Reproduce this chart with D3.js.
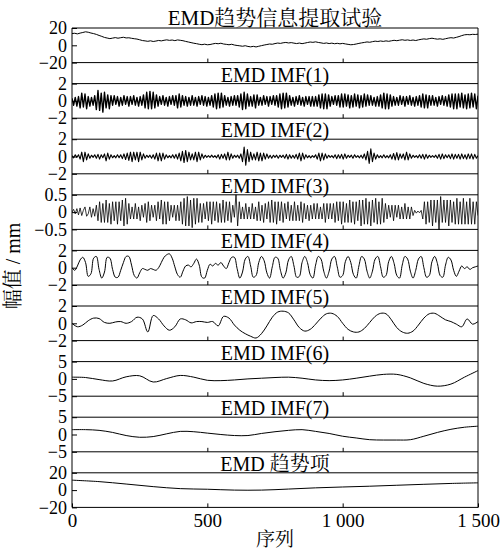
<!DOCTYPE html>
<html>
<head>
<meta charset="utf-8">
<script src="https://cdn.jsdelivr.net/npm/d3@7"></script>
<style>
body { margin: 0; background: #fff; }
</style>
</head>
<body>
<div id="chart"></div>
<script>
signalStep = 10
signal = [13.6,13.9,13.2,14.1,14.8,15.6,15.1,14.2,13.5,12.6,11.4,10.3,9.1,8.4,7.7,8.3,8.9,8.2,8.8,9.3,
  8.5,8.7,8.1,7.6,7.2,6.4,5.5,5.1,4.6,5.2,4.4,4.9,5.6,5.1,5.8,6.3,5.7,6.1,5.4,6.2,
  5.8,5.3,4.5,3.8,3.1,2.4,1.9,1.2,0.7,1.3,0.6,0.9,1.6,2.2,1.8,2.4,1.5,1.1,0.6,1.2,
  0.3,-0.2,-0.6,-1.1,-0.5,-1.3,-1.8,-1.2,-1.9,-1.1,-0.4,0.3,0.9,1.5,1.2,2,2.6,2.2,2.9,3.3,
  2.7,3.1,2.5,2,2.6,1.9,2.5,3.2,3.8,3.4,4,3.3,2.8,2.2,2.7,2,2.5,1.8,2.3,1.7,
  2.2,1.6,1.1,0.6,0.9,1.5,2.2,2.8,3.3,3.9,3.5,4.2,4.8,4.4,5,4.5,5.1,4.6,5.2,5.8,
  5.3,5.9,6.4,5.8,6.2,5.6,6.1,5.5,6.3,6.9,7.4,7,7.7,8.2,7.6,7.1,7.5,6.9,7.6,8.3,
  8.8,8.4,9.2,10.1,11.2,12.1,12.4,12.2,12.7,12.5,12.9]

imf1Step = 6
imf1 = [.3,-.5,.4,-.6,.5, -.8,.9,-.7,.8,-.9, .5,-.6,.4,-.5,.6, -1,1.2,-1.1,.9,-1.3,1,-.8,.7,-.9,.6,
  -.5,.6,-.4,.5,-.6, .4,-.5,.6,-.4,.5, -.6,.5,-.4,.6,-.5, .4,-.6,.5,-.5,.7, -.8,1,-.9,1.1,-.9,
  1,-.8,.7,-.6,.5, -.4,.6,-.5,.4,-.6, .5,-.4,.6,-.5,.6, -.8,.8,-.7,.6,-.5, .5,-.6,.4,-.5,.6,
  -.5,.4,-.6,.5,-.4, .6,-.5,.5,-.6,.4, -.5,.6,-.7,.8,-.9, .9,-.8,.9,-.7,.6, -.5,.4,-.6,.5,-.5,
  .6,-.5,.6,-.7,.8, -1,1,-.9,.8,-.6, .5,-.6,.7,-.8,.7, -.5,.4,-.5,.6,-.4, .5,-.6,.5,-.4,.6,
  -.5,.6,-.7,.8,-.9, .9,-.8,.9,-.7,.6, -.5,.4,-.6,.5,-.4, .6,-.5,.4,-.6,.5, -.4,.5,-.6,.5,-.6,
  .5,-.6,.7,-.8,.8, -.9,.8,-.9,.7,-.6, .5,-.4,.6,-.5,.6, -.7,.8,-.7,.8,-.6, .7,-.8,.6,-.7,.8,
  -.6,.7,-.8,.6,-.7, .8,-.6,.7,-.5,.6, -.5,.4,-.6,.5,-.6, .7,-.8,.9,-.9,.8, -.9,.7,-.6,.5,-.5,
  .4,-.5,.6,-.4,.5, -.6,.5,-.4,.6,-.5, .4,-.6,.5,-.5,.6, -.7,.8,-.8,.7,-.8, .6,-.5,.6,-.5,.4,
  -.6,.5,-.4,.6,-.5, .5,-.6,.7,-.7,.8, -.9,.8,-.9,.8,-.7, .9,-.8,.7,-.9,.8, -.8,.9,-.7,.8,-.9, .6]

imf2Step = 6
imf2 = [.1,-.15,.2,-.1,.2, -.3,.5,-.6,.5,-.4, .3,-.2,.15,-.1,.2, -.2,.25,-.3,.2,-.15, .3,-.5,.4,-.3,.2,
  -.15,.1,-.15,.2,-.15, .2,-.25,.3,-.35,.4, -.45,.5,-.6,.5,-.4, .5,-.6,.5,-.4,.3, -.2,.15,-.1,.15,-.2,
  .2,-.3,.4,-.5,.4, -.5,.4,-.3,.2,-.15, .1,-.15,.2,-.2,.25, -.3,.4,-.5,.6,-.7, .7,-.6,.5,-.4,.3,
  -.4,.5,-.6,.5,-.4, .3,-.2,.15,-.1,.1, -.1,.15,-.1,.1,-.15, .2,-.3,.25,-.2,.3, -.4,.5,-.4,.3,-.2,
  .15,-.1,.15,-.2,.3, -.6,1.1,-1,.8,-.6, .5,-.4,.3,-.4,.5, -.5,.4,-.5,.4,-.3, .3,-.2,.15,-.2,.15,
  -.1,.15,-.2,.15,-.1, .15,-.2,.25,-.3,.2, -.2,.15,-.2,.25,-.3, .4,-.5,.4,-.3,.2, -.15,.1,-.15,.1,-.1,
  .2,-.3,.4,-.5,.4, -.4,.3,-.2,.15,-.1, .1,-.15,.2,-.25,.2, -.2,.25,-.3,.3,-.2, .15,-.1,.15,-.2,.2,
  -.1,.1,-.15,.15,-.2, .3,-.4,.6,-.8,.9, -.6,.4,-.3,.2,-.15, .1,-.15,.2,-.15,.1, -.15,.2,-.3,.35,-.4,
  .45,-.4,.3,-.2,.3, -.4,.5,-.4,.3,-.2, .15,-.1,.1,-.15,.2, -.2,.25,-.3,.25,-.2, .15,-.1,.1,-.1,.15,
  -.2,.25,-.3,.3,-.25, .2,-.15,.2,-.25,.3, -.3,.25,-.2,.25,-.3, .3,-.25,.2,-.3,.3, -.25,.3,-.3,.25,-.2, .1]

imf3Step = 6
imf3 = [0,.08,-.05,.1,-.08, .12,-.1,.05,.15,-.12, -.05,.15,-.15,.1,-.12, .2,-.25,.3,-.3,.25, -.3,.35,-.3,.25,-.35,
  .3,-.25,.3,-.35,.3, -.25,.35,-.4,.4,-.35, .25,-.2,.15,-.2,.25, -.2,.15,-.25,.2,-.15, .25,-.3,.3,-.25,.2,
  -.15,.2,-.25,.3,-.2, .35,-.35,.3,-.35,.3, -.25,.2,-.15,.2,-.25, .2,-.25,.3,-.35,.4, -.4,.45,-.4,.35,-.45,
  .4,-.35,.4,-.3,.25, -.3,.25,-.2,.3,-.25, .3,-.35,.3,-.25,.3, -.3,.25,-.3,.35,-.3, .3,-.25,.3,-.3,.2,
  -.15,.55,-.4,.3,-.2, .15,-.2,.25,-.2,.15, -.2,.25,-.2,.15,-.25, .3,-.25,.2,-.3,.25, -.2,.3,-.3,.35,-.3,
  .3,-.35,.3,-.25,.3, -.3,.25,-.2,.3,-.25, .2,-.25,.3,-.25,.2, -.25,.3,-.3,.25,-.2, .2,-.25,.2,-.2,.25,
  -.2,.25,-.2,.15,-.2, .25,-.3,.25,-.2,.25, -.2,.25,-.3,.3,-.25, .3,-.35,.3,-.3,.25, -.3,.35,-.3,.3,-.35,
  .3,-.25,.35,-.4,.35, -.35,.4,-.35,.3,-.4, .35,-.3,.4,-.35,.3, -.35,.4,-.3,.25,-.2, .2,-.15,.2,-.25,.2,
  -.15,.2,-.2,.15,-.2, .25,-.2,.15,-.2,.15, -.1,.05,-.03,.03,-.02, .05,-.2,.3,-.35,.3, -.3,.35,-.4,.35,-.3,
  .35,-.55,.45,-.3,.35, -.3,.35,-.4,.35,-.3, .3,-.35,.4,-.35,.3, -.35,.4,-.35,.3,-.35, .4,-.35,.3,-.35,.3, -.1]

imf4Step = 10
imf4 = [0,-.3,.2,.9,1.2,.6,-1,-.7,1.1,1.3, -.2,-1.2,-.5,1.2,1.1,-.2,-1.1,-1.1,-.3,.6,
  1.3,1.3,.3,-.9,-1.2,-.6,-.1,-.2,-.3,-.1, -.2,-.3,0,.6,1.2,1.5,1.6,1.1,.1,-.8,
  -1.1,-.4,.2,.3,.1,.5,1,.3,-1.1,-1.2, -.3,.4,.2,.5,.3,.6,.2,-.1,.6,1.2,
  1.2,-.1,-1.2,-.5,1,1.3,.2,-1.1,-.9,.6, 1.3,.8,-.6,-1.2,.1,1.2,1.1,-.3,-1.2,-.6,
  .9,1.3,.2,-1.1,-1,.6,1.3,.6,-.8,-1.2, .3,1.3,1,-.4,-1.2,-.4,1,1.3,.1,-1.1,
  -.9,.7,1.3,.6,-.8,-1.2,.2,1.3,1,-.4, -1.2,-.4,1,1.3,.1,-1.1,-.9,.7,1.3,.5,
  -.9,-1.2,.3,1.3,1,-.4,-1.2,-.3,1,1.3, 0,-1.1,-.9,.7,1.3,.5,-.9,-1.1,.3,1.2,
  .9,-.3,-1,-.4,.2,-.1,.1,-.2,0,.1,.2]

imf5Step = 20
imf5 = [0,-.4,-.2,.3,.6,.55,.1,0,.15,.2, 0,.2,.7,.5,-1,.9,.5,-.3,-.8,-.4,
  .5,.4,.05,.2,.2,.1,.2,-.3,.8,.6, -.2,-.8,-1.2,-1.5,-1.7,-1.2,-.3,.7,1.3,1.4,
  1.2,.4,-.5,-.9,-.7,-.1,.6,1.1,1.15,.8, 0,-.7,-1,-1,-.6,.1,.8,1.15,1.1,.4,
  -.5,-1,-1.15,-.9,-.2,.6,1.1,1.15,.8,.4, .2,-.1,-.4,.5,-.1,.2]

imf6Step = 50
imf6 = [.5,.4,-.2,-.6,.6,.9,-.9,.1,1,.5, -.4,-.5,-.3,0,.2,.4,.5,.2,-.3,-.5,
  -.3,.2,.8,1.3,1.3,.3,-1.3,-2.1,-1.5,.5,2.4]

imf7Step = 50
imf7 = [1.4,1.4,1.2,.6,-.3,-.8,-.6,.2,.9,.8, .4,0,-.3,-.3,.3,.8,1.2,1.4,.9,.3,
  -.5,-1,-1.5,-1.6,-1.6,-1.5,-.5,.6,1.5,2.1,2.4]

trendStep = 100
trend = [11.5,9.8,7,4,1.7,1,0,0,1.2,2.6,3.6,4.5,5.6,6.7,7.7,8.4]

panelTitles = ["EMD趋势信息提取试验", "EMD IMF(1)", "EMD IMF(2)", "EMD IMF(3)", "EMD IMF(4)",
  "EMD IMF(5)", "EMD IMF(6)", "EMD IMF(7)", "EMD 趋势项"]
panelLimits = [20, 2, 2, 0.5, 2, 2, 5, 5, 20]
xTicks = [0, 500, 1000, 1500]
xLabel = "序列"
yLabel = "幅值 / mm"

series = [signal, imf1, imf2, imf3, imf4, imf5, imf6, imf7, trend]
steps = [signalStep, imf1Step, imf2Step, imf3Step, imf4Step, imf5Step, imf6Step, imf7Step, trendStep]
smooth = [false, false, false, false, true, true, true, true, true]
strokeW = [1, 1.4, 1.1, 0.8, 1, 1, 1, 1, 1]

const FONT = "'Liberation Serif', 'Times New Roman', 'DejaVu Serif', 'Noto Serif CJK SC', 'Noto Sans CJK SC', serif";
const W = 503, H = 552;
const left = 72, right = 478, top0 = 28, panelH = 34.6, pitch = 55.6;
const nP = series.length;
const bottom = top0 + (nP - 1) * pitch + panelH;

const svg = d3.select("#chart").append("svg")
    .attr("width", W)
    .attr("height", H);

const xScale = d3.scaleLinear().domain([0, 1500]).range([left, right]);
const fmt = d3.formatLocale({ decimal: ".", thousands: " ", grouping: [3], currency: ["", ""], minus: "\u2212" }).format(",");
const yFmt = d3.formatLocale({ decimal: ".", thousands: "", grouping: [3], currency: ["", ""], minus: "\u2212" }).format("");

for (let i = 0; i < nP; i++) {
    const top = top0 + i * pitch;
    const lim = panelLimits[i];
    const yScale = d3.scaleLinear().domain([-lim, lim]).range([top + panelH, top]);

    svg.append("clipPath").attr("id", "clip" + i)
        .append("rect")
        .attr("x", left).attr("y", top)
        .attr("width", right - left).attr("height", panelH);

    const line = d3.line()
        .x((d, j) => xScale(j * steps[i]))
        .y(d => yScale(d))
        .curve(smooth[i] ? d3.curveCatmullRom : d3.curveLinear);

    svg.append("path")
        .datum(series[i])
        .attr("clip-path", "url(#clip" + i + ")")
        .attr("fill", "none")
        .attr("stroke", "#000")
        .attr("stroke-width", strokeW[i])
        .attr("stroke-linejoin", "round")
        .attr("d", line);

    // y ticks: inner tick at zero, labels at -lim, 0, lim
    const yAxis = svg.append("g")
        .attr("transform", "translate(" + left + ",0)")
        .call(d3.axisLeft(yScale).tickValues([-lim, 0, lim]).tickSize(-5).tickPadding(5).tickFormat(yFmt));
    yAxis.select(".domain").remove();
    yAxis.selectAll("text").attr("font-size", 18).style("font-family", FONT).attr("fill", "#000");
    yAxis.selectAll("line").attr("stroke", "#000");

    const last = i === nP - 1;
    const xAxis = svg.append("g")
        .attr("transform", "translate(0," + (top + panelH) + ")")
        .call(d3.axisBottom(xScale).tickValues(last ? xTicks : xTicks.slice(1, 3))
            .tickSize(-4).tickPadding(6).tickFormat(last ? fmt : ""));
    xAxis.select(".domain").remove();
    xAxis.selectAll("text").attr("font-size", 19).style("font-family", FONT).attr("fill", "#000");
    xAxis.selectAll("line").attr("stroke", "#000");

    svg.append("line")
        .attr("x1", left).attr("x2", right)
        .attr("y1", top).attr("y2", top)
        .attr("stroke", "#000");
    svg.append("line")
        .attr("x1", left).attr("x2", right)
        .attr("y1", top + panelH).attr("y2", top + panelH)
        .attr("stroke", "#000");

    svg.append("text")
        .attr("x", (left + right) / 2)
        .attr("y", top - (i === 0 ? 3 : 2))
        .attr("text-anchor", "middle")
        .attr("font-size", i === 0 ? 21 : 20)
        .style("font-family", FONT)
        .text(panelTitles[i]);
}

svg.append("line").attr("x1", left).attr("x2", left).attr("y1", top0).attr("y2", bottom).attr("stroke", "#000");
svg.append("line").attr("x1", right).attr("x2", right).attr("y1", top0).attr("y2", bottom).attr("stroke", "#000");

svg.append("text")
    .attr("x", (left + right) / 2)
    .attr("y", 546)
    .attr("text-anchor", "middle")
    .attr("font-size", 19)
    .style("font-family", FONT)
    .text(xLabel);

svg.append("text")
    .attr("transform", "translate(20,266) rotate(-90)")
    .attr("text-anchor", "middle")
    .attr("font-size", 20)
    .style("font-family", FONT)
    .text(yLabel);
</script>
</body>
</html>
